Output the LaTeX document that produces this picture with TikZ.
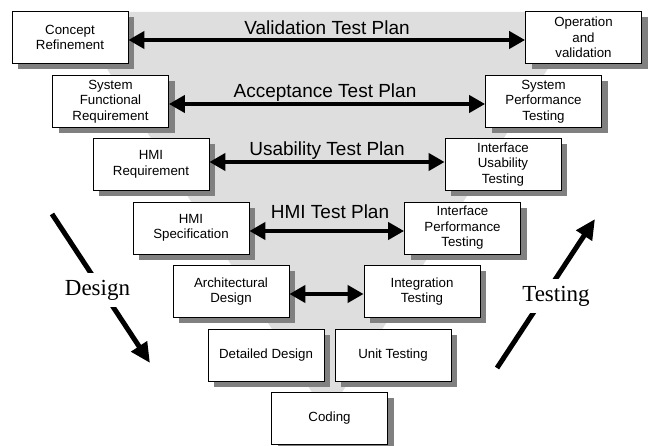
\documentclass[tikz,border=0pt]{standalone}
\usepackage{fontspec}
\setmainfont{Liberation Sans}
\newfontfamily\serifx{Liberation Serif}
\usetikzlibrary{arrows.meta}
\begin{document}
\begin{tikzpicture}[x=1pt,y=-1pt,
 box/.style={draw=black, line width=0.8pt, fill=white, minimum width=116pt, minimum height=52pt,
   align=center, font=\fontsize{13.3}{15.5}\selectfont, inner sep=1pt},
 shadowbox/.style={draw=none, fill=black!50, minimum width=116pt, minimum height=52pt, inner sep=0pt, outer sep=0pt},
 plan/.style={font=\fontsize{19}{22}\selectfont, anchor=base},
 link/.style={line width=4.5pt, {Triangle[length=16pt,width=17pt]}-{Triangle[length=16pt,width=17pt]}},
 phase/.style={font=\serifx\fontsize{23}{27}\selectfont, fill=white, inner xsep=2pt, inner ysep=7pt},
 bigarrow/.style={line width=5pt, -{Triangle[length=20pt,width=18pt]}}
]
\useasboundingbox (0,0) rectangle (648,446);
\fill[black!13] (71,12) -- (584,12) -- (327,416) -- cycle;

\node[shadowbox] (crs) at (76,43.5) {};
\node[shadowbox] (ovs) at (589.5,43.5) {};
\node[shadowbox] (sfs) at (116.5,107.5) {};
\node[shadowbox] (sps) at (549.5,107.5) {};
\node[shadowbox] (hrs) at (157,170.5) {};
\node[shadowbox] (ius) at (509,170.5) {};
\node[shadowbox] (hss) at (197,234) {};
\node[shadowbox] (ips) at (468.5,234) {};
\node[shadowbox] (ads) at (237,297.5) {};
\node[shadowbox] (its) at (428,297.5) {};
\node[shadowbox] (dds) at (272,361) {};
\node[shadowbox] (uts) at (399,361) {};
\node[shadowbox] (cos) at (335.5,424) {};

\node[box] (cr) at (70,37.5) {Concept\\Refinement};
\node[box] (ov) at (583.5,37.5) {Operation\\and\\validation};
\node[box] (sf) at (110.5,101.5) {System\\Functional\\Requirement};
\node[box] (sp) at (543.5,101.5) {System\\Performance\\Testing};
\node[box] (hr) at (151,164.5) {HMI\\Requirement};
\node[box] (iu) at (503,164.5) {Interface\\Usability\\Testing};
\node[box] (hs) at (191,228) {HMI\\Specification};
\node[box] (ip) at (462.5,228) {Interface\\Performance\\Testing};
\node[box] (ad) at (231,291.5) {Architectural\\Design};
\node[box] (it) at (422,291.5) {Integration\\Testing};
\node[box] (dd) at (266,355) {Detailed Design};
\node[box] (ut) at (393,355) {Unit Testing};
\node[box] (co) at (329.5,418) {Coding};

\draw[link] ([yshift=-2.5pt]cr.east) -- ([yshift=-2.5pt]ov.west);
\draw[link] ([yshift=-2.5pt]sf.east) -- ([yshift=-2.5pt]sp.west);
\draw[link] ([yshift=2.5pt]hr.east) -- ([yshift=2.5pt]iu.west);
\draw[link] ([yshift=-3pt]hs.east) -- ([yshift=-3pt]ip.west);
\draw[link] ([yshift=-2.5pt]ad.east) -- ([yshift=-2.5pt]it.west);

\node[plan] (l1) at (327,35) {Validation Test Plan};
\node[plan] (l2) at (325,98) {Acceptance Test Plan};
\node[plan] (l3) at (327,156) {Usability Test Plan};
\node[plan] (l4) at (330,219) {HMI Test Plan};

\coordinate (ds) at (52,214);
\coordinate (de) at (150,363);
\coordinate (ts) at (497,368);
\coordinate (te) at (595,219);
\draw[bigarrow] (ds) -- (de);
\draw[bigarrow] (ts) -- (te);
\node[phase] (dl) at (97.5,290) {Design};
\node[phase] (tl) at (556,296) {Testing};
\end{tikzpicture}
\end{document}
